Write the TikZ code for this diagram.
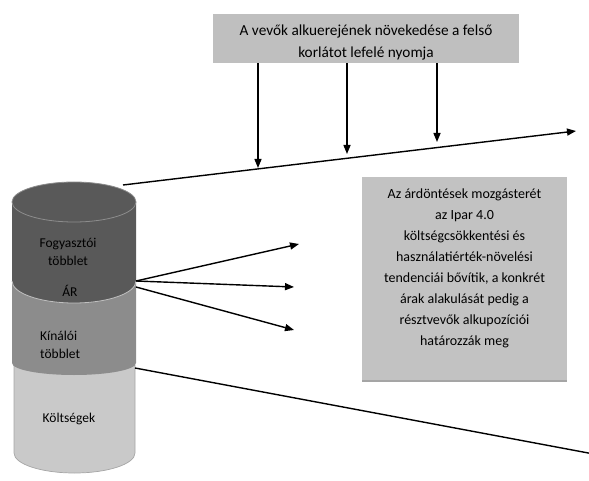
\documentclass[tikz,border=0pt]{standalone}
\usepackage{fontspec}
\setmainfont{Carlito}
\usetikzlibrary{positioning,arrows.meta,shadows}

\definecolor{cyldark}{HTML}{595959}
\definecolor{cylmid}{HTML}{8C8C8C}
\definecolor{cyllight}{HTML}{C9C9C9}
\definecolor{boxgray}{HTML}{BFBFBF}

\begin{document}
\begin{tikzpicture}[x=1pt,y=-1pt,
  boxfill/.style={fill=boxgray,inner sep=0pt},
  boxtext/.style={align=center,inner sep=0pt,font=\fontsize{15.3}{22}\selectfont},
  notetext/.style={align=center,inner sep=0pt,font=\fontsize{14}{21}\selectfont},
  cyltext/.style={align=center,inner sep=0pt,font=\fontsize{13.5}{18.5}\selectfont},
  arr/.style={line width=1.4pt,-{Triangle[length=9pt,width=7pt]}},
  plain/.style={line width=1.4pt}]
\useasboundingbox (0,0) rectangle (589,481);
\clip (0,0) rectangle (589,481);

% cylinder
\fill[cyllight,draw=black!35,line width=0.7pt] (14,365) -- (14,453)
  arc[start angle=180,end angle=0,x radius=60.5,y radius=20] -- (135,365) -- cycle;
\fill[cylmid] (12,281) -- (12,363)
  arc[start angle=180,end angle=0,x radius=62,y radius=12] -- (136,281) -- cycle;
\fill[cyldark] (12,202) -- (12,281)
  arc[start angle=180,end angle=0,x radius=62,y radius=22] -- (136,202)
  arc[start angle=0,end angle=-180,x radius=62,y radius=20] -- cycle;
\draw[black!25,line width=0.8pt] (12,281) arc[start angle=180,end angle=0,x radius=62,y radius=22];
\draw[black!45,line width=0.8pt] (74,202) ellipse[x radius=62,y radius=20];

\node[cyltext] (fogy) at (68,252) {Fogyasztói\\többlet};
\node[cyltext] (ar) at (70,291) {ÁR};
\node[cyltext,align=left,anchor=west] (kin) at (40,345) {Kínálói\\többlet};
\node[cyltext] (kolt) at (69,419) {Költségek};

% top box
\node[boxfill,minimum width=306pt,minimum height=49pt] (top) at (366,38.5) {};
\begin{scope}
\clip (top.north west) rectangle (top.south east);
\node[boxtext] (toptxt) at ([yshift=-4pt]top.center) {A vevők alkuerejének növekedése a felső\\korlátot lefelé nyomja};
\end{scope}

% note box
\node[boxfill,fill=black!24,minimum width=205pt,minimum height=203pt,
  drop shadow={shadow xshift=0pt,shadow yshift=-2pt,fill=black!70}] (note) at (464.5,278.5) {};
\node[notetext] (notetxt) at ([yshift=10pt]note.center) {Az árdöntések mozgásterét\\az Ipar 4.0\\költségcsökkentési és\\használatiérték-növelési\\tendenciái bővítik, a konkrét\\árak alakulását pedig a\\résztvevők alkupozíciói\\határozzák meg};

% upper bound line
\coordinate (ub0) at (123,185);
\coordinate (ub1) at (576,131);
\draw[arr] (ub0) -- (ub1);

% pressure arrows
\coordinate (p1) at (258,168);
\coordinate (p2) at (347,154);
\coordinate (p3) at (437,142);
\foreach \p in {p1,p2,p3}
  \draw[arr] (top.south -| \p) -- (\p);

% price arrows
\coordinate (pr) at (136,281);
\coordinate (pr3) at (136,287);
\coordinate (f1) at (299,244);
\coordinate (f2) at (294,287);
\coordinate (f3) at (294,330);
\draw[arr] (pr) -- (f1);
\draw[arr] (pr) -- (f2);
\draw[arr] (pr3) -- (f3);

% lower bound line
\coordinate (lb0) at (135,368);
\coordinate (lb1) at (599,455);
\draw[arr] (lb0) -- (lb1);
\end{tikzpicture}
\end{document}
